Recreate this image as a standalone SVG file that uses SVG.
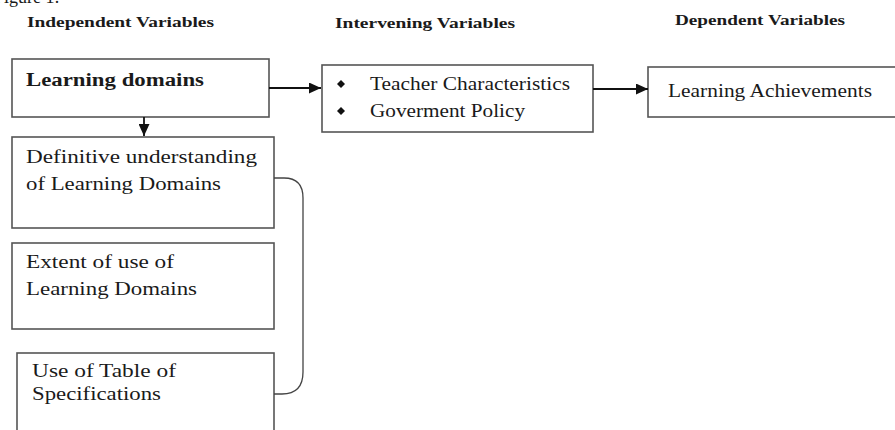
<svg xmlns="http://www.w3.org/2000/svg" width="895" height="430" viewBox="0 0 895 430">
<style>
.hdr{font-family:"Liberation Serif",serif;font-weight:bold;font-size:14px;fill:#1a1a1a}
.t{font-family:"Liberation Serif",serif;font-size:18px;fill:#1a1a1a}
.tb{font-family:"Liberation Serif",serif;font-weight:bold;font-size:18px;fill:#1a1a1a}
.box{fill:#fff;stroke:#555;stroke-width:1.6}
.ln{fill:none;stroke:#111;stroke-width:1.8}
.br{fill:none;stroke:#444;stroke-width:1.3}
</style>
<defs>
<marker id="ah" markerWidth="12" markerHeight="11" refX="12" refY="5.5" orient="auto" markerUnits="userSpaceOnUse">
<path d="M0,0 L12,5.5 L0,11 Z" fill="#111"/>
</marker>
</defs>
<rect width="895" height="430" fill="#fff"/>
<text class="t" x="-6" y="3" font-size="16">Figure 1:</text>
<text class="hdr" x="27" y="27" textLength="187" lengthAdjust="spacingAndGlyphs">Independent Variables</text>
<text class="hdr" x="335" y="28" textLength="180" lengthAdjust="spacingAndGlyphs">Intervening Variables</text>
<text class="hdr" x="675" y="25" textLength="170" lengthAdjust="spacingAndGlyphs">Dependent Variables</text>
<g id="learning-domains">
<rect class="box" x="12" y="59" width="257" height="58"/>
<text class="tb" x="26" y="86" textLength="178" lengthAdjust="spacingAndGlyphs">Learning domains</text>
</g>
<g id="intervening">
<rect class="box" x="322" y="65" width="271" height="67"/>
<path d="M341,80 L345,84 L341,88 L337,84 Z" fill="#111"/>
<path d="M341,107 L345,111 L341,115 L337,111 Z" fill="#111"/>
<text class="t" x="370" y="90" textLength="200" lengthAdjust="spacingAndGlyphs">Teacher Characteristics</text>
<text class="t" x="370" y="117" textLength="155" lengthAdjust="spacingAndGlyphs">Goverment Policy</text>
</g>
<g id="achievements">
<rect class="box" x="648" y="67" width="260" height="50"/>
<text class="t" x="668" y="97" textLength="204" lengthAdjust="spacingAndGlyphs">Learning Achievements</text>
</g>
<g id="definitive">
<rect class="box" x="12" y="137" width="262" height="91"/>
<text class="t" x="26" y="163" textLength="231" lengthAdjust="spacingAndGlyphs">Definitive understanding</text>
<text class="t" x="26" y="190" textLength="195" lengthAdjust="spacingAndGlyphs">of Learning Domains</text>
</g>
<g id="extent">
<rect class="box" x="12" y="243" width="262" height="86"/>
<text class="t" x="26" y="268" textLength="148" lengthAdjust="spacingAndGlyphs">Extent of use of</text>
<text class="t" x="26" y="295" textLength="171" lengthAdjust="spacingAndGlyphs">Learning Domains</text>
</g>
<g id="tos">
<rect class="box" x="17" y="353" width="257" height="90"/>
<text class="t" x="32" y="377" textLength="144" lengthAdjust="spacingAndGlyphs">Use of Table of</text>
<text class="t" x="32" y="400" textLength="129" lengthAdjust="spacingAndGlyphs">Specifications</text>
</g>
<g id="connectors">
<line class="ln" x1="269" y1="88" x2="321" y2="88" marker-end="url(#ah)"/>
<line class="ln" x1="593" y1="89" x2="648" y2="89" marker-end="url(#ah)"/>
<line class="ln" x1="144" y1="117" x2="144" y2="136" marker-end="url(#ah)"/>
<path class="br" d="M274,178 L284,178 Q303,178 303,198 L303,372 Q303,394 282,394 L274,394"/>
</g>
</svg>
